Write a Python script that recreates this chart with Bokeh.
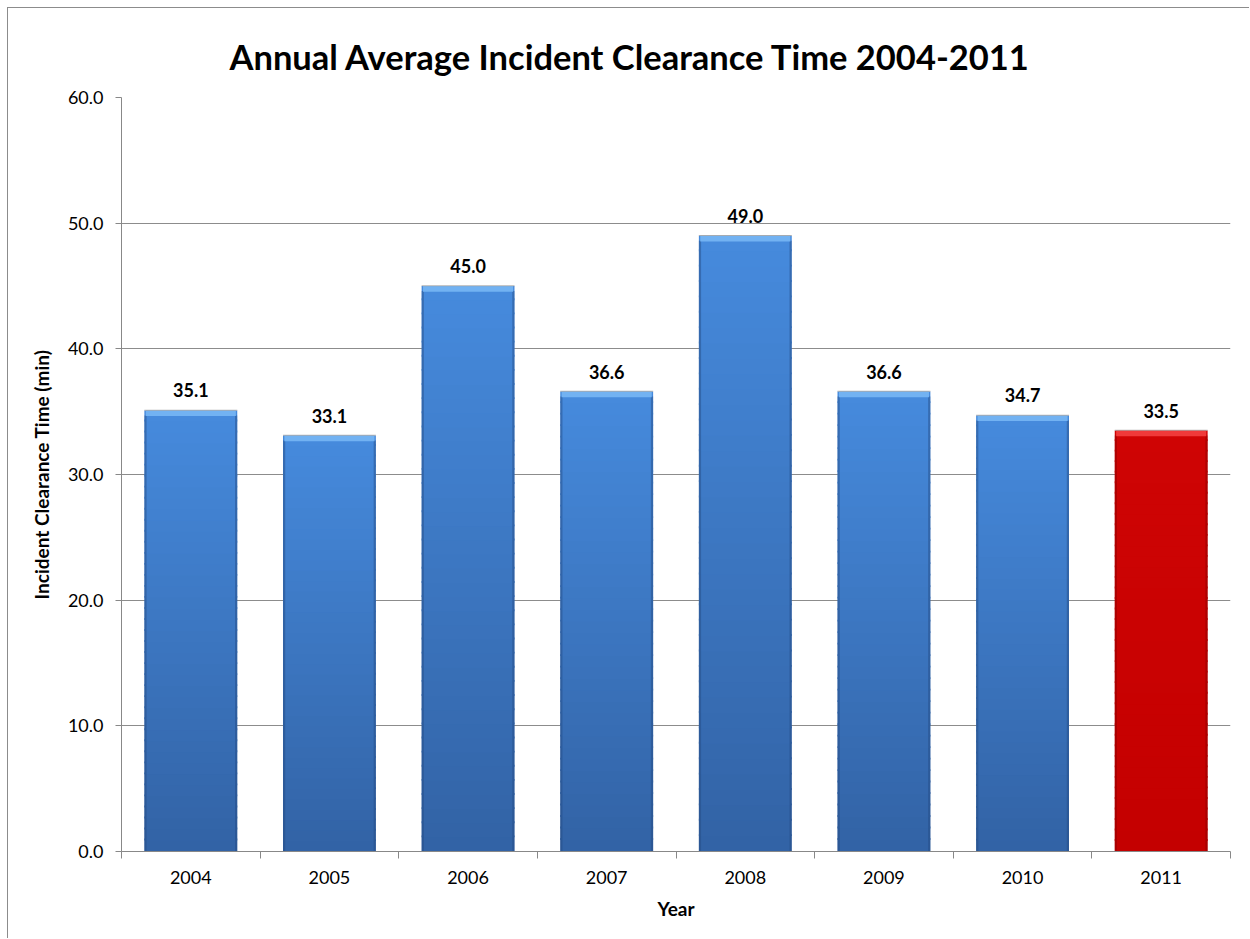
import numpy as np
from bokeh.plotting import figure
from bokeh.models import FixedTicker, ColumnDataSource, NumeralTickFormatter, Range1d
from bokeh.core.properties import value
from bokeh.embed import file_html
from bokeh.resources import INLINE

years = ["2004", "2005", "2006", "2007", "2008", "2009", "2010", "2011"]
clearance = [35.1, 33.1, 45.0, 36.6, 49.0, 36.6, 34.7, 33.5]
highlight = [False, False, False, False, False, False, False, True]
y_ticks = [0, 10, 20, 30, 40, 50, 60]

FONT = "Lato"
BAR_W = 0.67

p = figure(width=1242, height=931, output_backend="svg", toolbar_location=None,
           x_range=Range1d(0, len(years)), y_range=Range1d(0, 60),
           min_border_left=113, min_border_top=89, min_border_right=20, min_border_bottom=88)
p.styles = {"border-left": "1px solid #8c8c8c", "border-top": "1px solid #8c8c8c",
            "margin-left": "7px", "margin-top": "7px"}
p.outline_line_color = None
p.background_fill_color = "white"

p.title.text = "Annual Average Incident Clearance Time 2004-2011"
p.title.text_font = FONT
p.title.text_font_size = "34.5px"
p.title.text_font_style = "bold"
p.title.text_color = "black"
p.title.align = "left"
p.title.offset = 108
p.title.standoff = 42

# gradient bars built from data
N = 40
xs, bots, tops, cols = [], [], [], []
def mix(c1, c2, t):
    return "#%02x%02x%02x" % tuple(int(round(a + (b - a) * t)) for a, b in zip(c1, c2))
blue_bot, blue_top = (0x32, 0x62, 0xa5), (0x46, 0x8b, 0xdd)
red_bot, red_top = (0xc4, 0x00, 0x00), (0xcf, 0x04, 0x04)
for i, (v, h) in enumerate(zip(clearance, highlight)):
    cb, ct = (red_bot, red_top) if h else (blue_bot, blue_top)
    for k in range(N):
        xs.append(i + 0.5)
        bots.append(v * k / N)
        tops.append(min(v, v * (k + 1) / N + 0.15))
        cols.append(mix(cb, ct, (k + 0.5) / N))
p.vbar(x=xs, bottom=bots, top=tops, width=BAR_W, fill_color=cols, line_color=None)

centers = [i + 0.5 for i in range(len(years))]
# side shading
edge_cols = ["#8a0000" if h else "#244a80" for h in highlight]
p.vbar(x=[c - BAR_W / 2 + 0.008 for c in centers], bottom=0, top=[v - 0.4 for v in clearance],
       width=0.016, fill_color=edge_cols, line_color=None, fill_alpha=0.45)
p.vbar(x=[c + BAR_W / 2 - 0.008 for c in centers], bottom=0, top=[v - 0.4 for v in clearance],
       width=0.016, fill_color=edge_cols, line_color=None, fill_alpha=0.45)
# top bevel
bevel_cols = ["#f03a3a" if h else "#72b2f2" for h in highlight]
p.vbar(x=centers, bottom=[v - 0.45 for v in clearance], top=clearance, width=BAR_W - 0.02,
       fill_color=bevel_cols, line_color=None)
# thin gray edge at top
p.vbar(x=centers, bottom=[v - 0.02 for v in clearance], top=[v + 0.06 for v in clearance],
       width=BAR_W, fill_color="#a0a0a0", line_color=None, fill_alpha=0.8)

src = ColumnDataSource(dict(x=centers, y=clearance, t=["%.1f" % v for v in clearance]))
p.text(x="x", y="y", text="t", source=src, text_align="center", text_baseline="bottom",
       y_offset=-13, text_font=value(FONT), text_font_size="18px", text_font_style="bold",
       text_color="black")

# axes
p.xaxis.ticker = FixedTicker(ticks=centers, minor_ticks=list(range(len(years) + 1)))
p.xaxis.major_label_overrides = {c: y for c, y in zip(centers, years)}
p.xaxis.major_tick_out = 0
p.xaxis.major_tick_in = 0
p.xaxis.minor_tick_out = 7
p.xaxis.minor_tick_in = 0
p.xaxis.minor_tick_line_color = "#888888"
p.xaxis.axis_line_color = "#888888"
p.xaxis.major_label_text_font = FONT
p.xaxis.major_label_text_font_size = "18px"
p.xaxis.major_label_text_color = "black"
p.xaxis.major_label_standoff = 12
p.xaxis.axis_label = "Year"
p.xaxis.axis_label_text_font = FONT
p.xaxis.axis_label_text_font_size = "19px"
p.xaxis.axis_label_text_font_style = "bold"
p.xaxis.axis_label_text_color = "black"
p.xaxis.axis_label_standoff = 10

p.yaxis.ticker = FixedTicker(ticks=y_ticks, minor_ticks=[])
p.yaxis.formatter = NumeralTickFormatter(format="0.0")
p.yaxis.major_tick_out = 6
p.yaxis.major_tick_in = 0
p.yaxis.major_tick_line_color = "#888888"
p.yaxis.axis_line_color = "#888888"
p.yaxis.major_label_text_font = FONT
p.yaxis.major_label_text_font_size = "18px"
p.yaxis.major_label_text_color = "black"
p.yaxis.major_label_standoff = 12
p.yaxis.axis_label = "Incident Clearance Time (min)"
p.yaxis.axis_label_text_font = FONT
p.yaxis.axis_label_text_font_size = "19px"
p.yaxis.axis_label_text_font_style = "bold"
p.yaxis.axis_label_text_color = "black"
p.yaxis.axis_label_standoff = 12

p.xgrid.grid_line_color = None
p.ygrid.grid_line_color = "#8c8c8c"
p.ygrid.grid_line_width = 1

open("out.html", "w").write(file_html(p, INLINE))
